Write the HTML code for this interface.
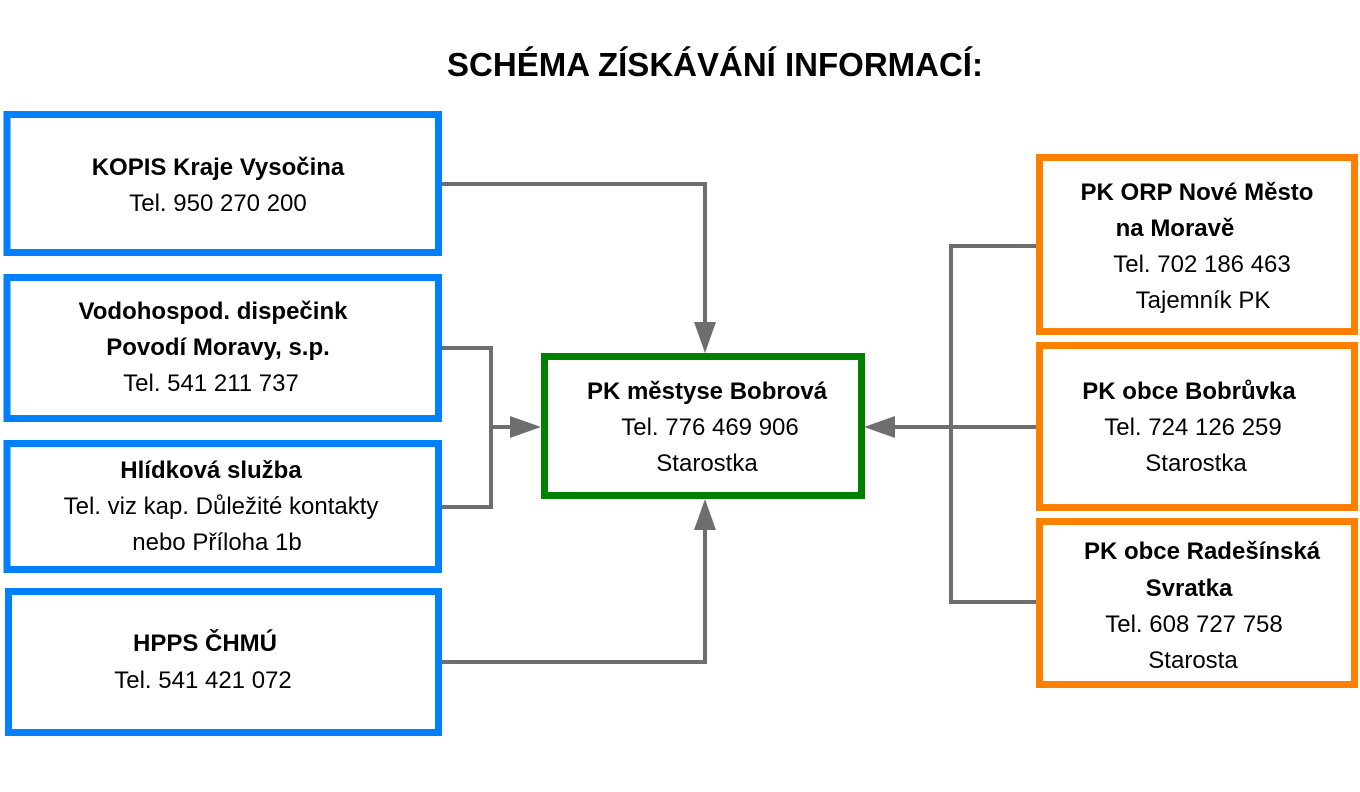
<!DOCTYPE html>
<html><head><meta charset="utf-8"><style>
html,body{margin:0;padding:0;background:#fff;}
svg text{font-family:"Liberation Sans",sans-serif;fill:#000;text-anchor:middle;}
.b{font-weight:bold;}
</style></head><body>
<svg width="1360" height="787" viewBox="0 0 1360 787" xmlns="http://www.w3.org/2000/svg">
<text x="715" y="76" class="b" font-size="33">SCHÉMA ZÍSKÁVÁNÍ INFORMACÍ:</text>
<g fill="none" stroke="#0080FF" stroke-width="7">
<rect x="7" y="114.5" width="431.5" height="138"/>
<rect x="7" y="277.5" width="431.5" height="141"/>
<rect x="7" y="443.5" width="431.5" height="126"/>
<rect x="8.5" y="591.5" width="430" height="141"/>
</g>
<g fill="none" stroke="#FF8000" stroke-width="7">
<rect x="1039.5" y="157.5" width="315" height="174"/>
<rect x="1039.5" y="345.5" width="315" height="162"/>
<rect x="1039.5" y="521.5" width="315" height="163"/>
</g>
<rect x="544.5" y="356.5" width="317" height="139" fill="none" stroke="#008000" stroke-width="7"/>
<g fill="none" stroke="#6E6E6E" stroke-width="4">
<polyline points="442,184 705,184 705,330"/>
<polyline points="442,348 491,348 491,507 442,507"/>
<line x1="491" y1="427" x2="515" y2="427"/>
<polyline points="442,662 705,662 705,522"/>
<polyline points="1036,246 951,246 951,602 1036,602"/>
<line x1="1036" y1="427" x2="888" y2="427"/>
</g>
<g fill="#6E6E6E">
<polygon points="510,416 541,427 510,438"/>
<polygon points="694,322 716,322 705,353"/>
<polygon points="694,530 716,530 705,499"/>
<polygon points="895,416 864,427 895,438"/>
</g>
<g font-size="24">
<text x="218" y="175" class="b">KOPIS Kraje Vysočina</text>
<text x="218" y="211">Tel. 950 270 200</text>
<text x="213" y="319" class="b">Vodohospod. dispečink</text>
<text x="218" y="355" class="b">Povodí Moravy, s.p.</text>
<text x="211" y="391">Tel. 541 211 737</text>
<text x="211" y="478" class="b">Hlídková služba</text>
<text x="221" y="514">Tel. viz kap. Důležité kontakty</text>
<text x="217" y="550">nebo Příloha 1b</text>
<text x="205" y="651" class="b">HPPS ČHMÚ</text>
<text x="203" y="688">Tel. 541 421 072</text>
<text x="707" y="399" class="b">PK městyse Bobrová</text>
<text x="710" y="435">Tel. 776 469 906</text>
<text x="707" y="471">Starostka</text>
<text x="1197" y="200" class="b">PK ORP Nové Město</text>
<text x="1175" y="236" class="b">na Moravě</text>
<text x="1202" y="272">Tel. 702 186 463</text>
<text x="1203" y="308">Tajemník PK</text>
<text x="1189" y="399" class="b">PK obce Bobrůvka</text>
<text x="1193" y="435">Tel. 724 126 259</text>
<text x="1196" y="471">Starostka</text>
<text x="1202" y="559" class="b">PK obce Radešínská</text>
<text x="1189" y="596" class="b">Svratka</text>
<text x="1194" y="632">Tel. 608 727 758</text>
<text x="1193" y="668">Starosta</text>
</g>
</svg>
</body></html>
